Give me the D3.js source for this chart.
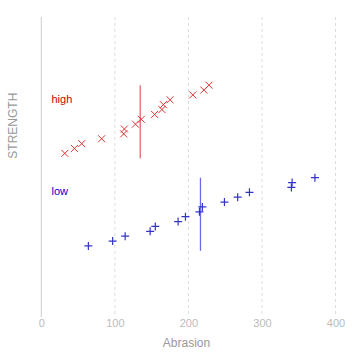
<!DOCTYPE html>
<html><head><meta charset="utf-8">
<script src="https://cdn.jsdelivr.net/npm/d3@7"></script>
<style>body{margin:0;background:#fff;}svg{display:block;font-family:"Liberation Sans",Arial,sans-serif;}</style>
</head><body><svg id="c" width="359" height="356"></svg>
<script>
const groups = ["high", "low"];
const highAbrasion = [32, 45, 55, 82, 112, 113, 128, 136, 154, 164, 166, 175, 206, 221, 228];
const highRank = [1, 2, 3, 4, 5, 6, 7, 8, 9, 10, 11, 12, 13, 14, 15];
const lowAbrasion = [64, 97, 114, 148, 155, 186, 196, 215, 219, 249, 267, 283, 340, 341, 372];
const lowRank = [1, 2, 3, 4, 5, 6, 7, 8, 9, 10, 11, 12, 13, 14, 15];
const groupMeans = [134.5, 216.4];
const groupOffset = [19, 0];
const xTicks = [0, 100, 200, 300, 400];

const colors = {high: {mark: "#dd3333", line: "#e06a6a", label: "#cc0000"},
                low: {mark: "#3333cc", line: "#6b6bea", label: "#0000cc"}};

const svg = d3.select("#c");
const x = d3.scaleLinear().domain([0, 400]).range([41.3, 335.5]);
const y = d3.scaleLinear().domain([-13.6, 48]).range([317, 17]);

// gridlines
svg.append("g").selectAll("line").data(xTicks.filter(d => d > 0)).join("line")
  .attr("x1", d => x(d)).attr("x2", d => x(d)).attr("y1", 17).attr("y2", 317)
  .attr("stroke", "#dddddd").attr("stroke-dasharray", "3,3");
svg.append("line").attr("x1", x(0)).attr("x2", x(0)).attr("y1", 17).attr("y2", 317)
  .attr("stroke", "#cccccc");

// x axis labels
const xAxis = d3.axisBottom(x).tickValues(xTicks).tickSize(0).tickPadding(0);
const gx = svg.append("g").attr("transform", "translate(0,319)").call(xAxis);
gx.select(".domain").remove();
gx.selectAll("text").attr("fill", "#bbbbbb").attr("font-size", 11)
  .attr("font-family", "Liberation Sans, Arial, sans-serif").attr("dy", "0.71em");

svg.append("text").attr("x", 186.5).attr("y", 347).attr("text-anchor", "middle")
  .attr("fill", "#999999").attr("font-size", 12).text("Abrasion");
svg.append("text").attr("transform", "translate(16.5,125.7) rotate(-90)")
  .attr("text-anchor", "middle").attr("fill", "#999999").attr("font-size", 12).text("STRENGTH");

const data = [
  {g: "high", ab: highAbrasion, rk: highRank, mean: groupMeans[0], off: groupOffset[0]},
  {g: "low", ab: lowAbrasion, rk: lowRank, mean: groupMeans[1], off: groupOffset[1]}
];

data.forEach(s => {
  const c = colors[s.g];
  svg.append("line").attr("x1", x(s.mean)).attr("x2", x(s.mean))
    .attr("y1", y(s.off)).attr("y2", y(s.off + 15))
    .attr("stroke", c.line).attr("stroke-width", 1.3);
  svg.append("text").attr("x", 51.5).attr("y", y(s.off + 12.1) + 3.6)
    .attr("fill", c.label).attr("font-size", 11).text(s.g);
  const pts = s.ab.map((a, i) => [x(a), y(s.off + s.rk[i])]);
  const g = svg.append("g");
  pts.forEach(p => {
    if (s.g === "high") {
      const r = 3.5;
      g.append("path").attr("d", `M${p[0]-r},${p[1]-r}L${p[0]+r},${p[1]+r}M${p[0]-r},${p[1]+r}L${p[0]+r},${p[1]-r}`)
        .attr("stroke", c.mark).attr("stroke-width", 1).attr("fill", "none");
    } else {
      const r = 4;
      g.append("path").attr("d", `M${p[0]-r},${p[1]}L${p[0]+r},${p[1]}M${p[0]},${p[1]-r}L${p[0]},${p[1]+r}`)
        .attr("stroke", c.mark).attr("stroke-width", 1.2).attr("fill", "none");
    }
  });
});
</script></body></html>
